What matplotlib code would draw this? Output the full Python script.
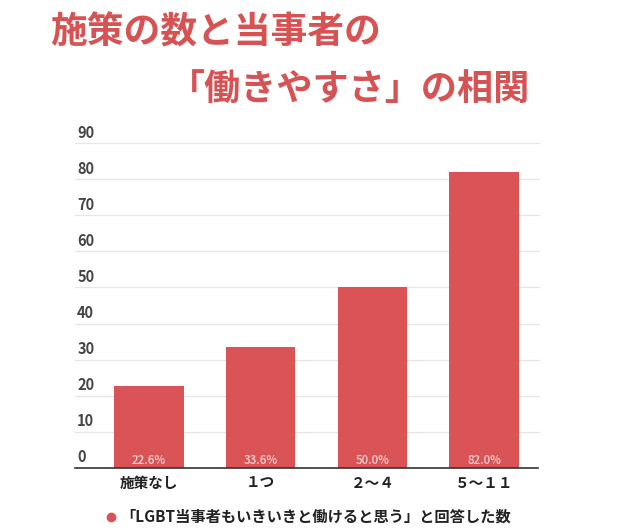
import matplotlib
matplotlib.use("Agg")
import matplotlib.pyplot as plt
from matplotlib.lines import Line2D

plt.rcParams['font.family'] = ['Noto Sans CJK JP', 'DejaVu Sans']

# data
categories = ["施策なし", "１つ", "２～４", "５～１１"]
values = [22.6, 33.6, 50.0, 82.0]
yticks = [0, 10, 20, 30, 40, 50, 60, 70, 80, 90]
title1 = "施策の数と当事者の"
title2 = "「働きやすさ」の相関"
legend_label = "「LGBT当事者もいきいきと働けると思う」と回答した数"

bar_color = "#DA5457"
title_color = "#D65253"
W, H = 630, 529

fig = plt.figure(figsize=(W / 100, H / 100), dpi=100)
ax = fig.add_axes([93 / W, 61 / H, 447 / W, 325 / H])

x = list(range(len(categories)))
ax.bar(x, values, width=0.62, color=bar_color, zorder=2)
ax.set_xlim(-0.5, len(categories) - 0.5)
ax.set_ylim(0, 90)

# grid lines run left under the tick labels
ext = (93 - 75) / 447
tr = ax.get_yaxis_transform()
for t in yticks:
    if t == 0:
        ax.plot([-ext, 0.995], [t, t], color="#333333", lw=1.2, transform=tr,
                clip_on=False, zorder=3)
    else:
        ax.plot([-ext, 0.998], [t, t], color="#e6e6e6", lw=0.9, transform=tr,
                clip_on=False, zorder=1)
    ax.annotate(str(t), xy=(-ext + 0.005, t), xycoords=tr, xytext=(0, 2.5),
                textcoords="offset pixels", ha="left", va="bottom",
                fontsize=10.5, fontweight="bold", color="#444444")

for i, v in enumerate(values):
    ax.text(i, 2.2, f"{v:.1f}%", ha="center", va="center", fontsize=8.3,
            fontweight="medium", color="#F9D3D3", zorder=4)

ax.set_xticks(x)
ax.set_xticklabels(categories, fontsize=10.5, fontweight="bold", color="#222222")
ax.tick_params(axis="x", length=0, pad=5)
ax.set_yticks([])
for s in ax.spines.values():
    s.set_visible(False)

fig.text(50 / W, 1 - 33 / H, title1, fontsize=26.5, fontweight="bold",
         color=title_color, ha="left", va="center")
fig.text(169 / W, 1 - 89 / H, title2, fontsize=26, fontweight="bold",
         color=title_color, ha="left", va="center")

fig.add_artist(Line2D([111 / W], [1 - 517 / H], marker="o", markersize=6,
                      color=bar_color, transform=fig.transFigure))
fig.text(120 / W, 1 - 517 / H, legend_label, fontsize=11, fontweight="bold",
         color="#222222", ha="left", va="center")

fig.savefig("out.png", dpi=100, facecolor="white")
